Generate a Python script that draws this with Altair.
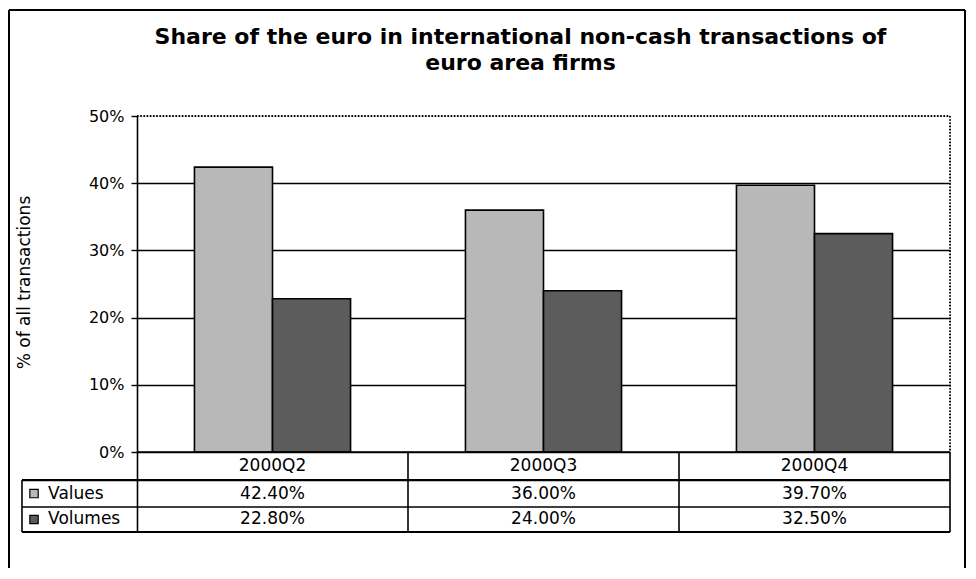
import altair as alt
import pandas as pd

# ---- data ----
quarters = ["2000Q2", "2000Q3", "2000Q4"]
series = ["Values", "Volumes"]
values = [0.424, 0.360, 0.397]
volumes = [0.228, 0.240, 0.325]
value_labels = ["42.40%", "36.00%", "39.70%"]
volume_labels = ["22.80%", "24.00%", "32.50%"]
y_ticks = [0.0, 0.1, 0.2, 0.3, 0.4, 0.5]
title_lines = ["Share of the euro in international non-cash transactions of", "euro area firms"]
y_title = "% of all transactions"
colors = ["#b8b8b8", "#5c5c5c"]

FONT = "DejaVu Sans"

# ---- tables built from the lists ----
bars_df = pd.DataFrame(
    [{"quarter": q, "series": series[0], "y": v} for q, v in zip(quarters, values)]
    + [{"quarter": q, "series": series[1], "y": v} for q, v in zip(quarters, volumes)]
)

# data-table geometry (in axis units: one column = 1, y in share units below 0)
Y_MIN = -0.119
Y_MAX = 0.5
ROW_HEADER = -0.0208
ROW_LINE1 = -0.0417
ROW_LINE2 = -0.0818
row_centres = [-0.0618, -0.1004]
LEG_LEFT = -0.4244

header_df = pd.DataFrame({"cx": [i + 0.5 for i in range(len(quarters))], "y": ROW_HEADER, "label": quarters})
cells_df = pd.DataFrame(
    [{"cx": i + 0.5, "y": row_centres[0], "label": s} for i, s in enumerate(value_labels)]
    + [{"cx": i + 0.5, "y": row_centres[1], "label": s} for i, s in enumerate(volume_labels)]
)
legend_df = pd.DataFrame({"series": series, "y": row_centres, "icon_x": [-0.380, -0.380], "text_x": [-0.328, -0.328]})

n = len(quarters)
lines = [
    {"cx": 0, "cx2": n, "y": 0.0, "y2": 0.0, "w": 1.6},
    {"cx": LEG_LEFT, "cx2": n, "y": ROW_LINE1, "y2": ROW_LINE1, "w": 2.2},
    {"cx": LEG_LEFT, "cx2": n, "y": ROW_LINE2, "y2": ROW_LINE2, "w": 1.6},
    {"cx": LEG_LEFT, "cx2": n, "y": Y_MIN, "y2": Y_MIN, "w": 1.8},
    {"cx": LEG_LEFT, "cx2": LEG_LEFT, "y": ROW_LINE1, "y2": Y_MIN, "w": 1.6},
]
for i in range(1, n + 1):
    lines.append({"cx": i, "cx2": i, "y": 0.0, "y2": Y_MIN, "w": 1.6})
lines_df = pd.DataFrame(lines)

dotted_df = pd.DataFrame([
    {"cx": 0, "cx2": n, "y": Y_MAX, "y2": Y_MAX},
    {"cx": n, "cx2": n, "y": Y_MAX, "y2": 0.0},
])

# ---- scales / axes ----
yscale = alt.Scale(domain=[Y_MIN, Y_MAX], nice=False, zero=False)
yaxis = alt.Axis(
    values=y_ticks, format=".0%", title=y_title,
    grid=True, gridColor="black", gridWidth=1.3,
    gridOpacity={"condition": {"test": "datum.value >= 0.5", "value": 0}, "value": 1},
    domainColor="black", domainWidth=1.6,
    tickColor="black", tickSize=6, tickWidth=1.4,
    labelFont=FONT, labelFontSize=16, labelColor="black", labelPadding=7,
    titleFont=FONT, titleFontSize=17, titleFontWeight="normal", titleColor="black",
    titleX=-113, titleY=166, titleAngle=270, titleAlign="center", titleBaseline="middle",
)
tx_scale = alt.Scale(domain=[0, n], nice=False, zero=False)
color_scale = alt.Scale(domain=series, range=colors)

bars = alt.Chart(bars_df).mark_bar(stroke="black", strokeWidth=1.6).encode(
    x=alt.X("quarter:N", sort=quarters, scale=alt.Scale(paddingInner=0.424, paddingOuter=0.212), axis=None),
    xOffset=alt.XOffset("series:N", sort=series, scale=alt.Scale(paddingInner=0, paddingOuter=0)),
    y=alt.Y("y:Q", scale=yscale, axis=yaxis),
    color=alt.Color("series:N", scale=color_scale, legend=None),
)

rules = alt.Chart(lines_df).mark_rule(color="black").encode(
    x=alt.X("cx:Q", scale=tx_scale, axis=None),
    x2="cx2:Q",
    y=alt.Y("y:Q", scale=yscale, axis=yaxis),
    y2="y2:Q",
    strokeWidth=alt.StrokeWidth("w:Q", scale=None),
)

dotted = alt.Chart(dotted_df).mark_rule(color="black", strokeWidth=1.8, strokeDash=[1.6, 1.6]).encode(
    x=alt.X("cx:Q", scale=tx_scale, axis=None),
    x2="cx2:Q",
    y=alt.Y("y:Q", scale=yscale, axis=yaxis),
    y2="y2:Q",
)

header = alt.Chart(header_df).mark_text(font=FONT, fontSize=17, color="black", baseline="middle").encode(
    x=alt.X("cx:Q", scale=tx_scale, axis=None),
    y=alt.Y("y:Q", scale=yscale, axis=yaxis),
    text="label:N",
)
cells = alt.Chart(cells_df).mark_text(font=FONT, fontSize=17, color="black", baseline="middle").encode(
    x=alt.X("cx:Q", scale=tx_scale, axis=None),
    y=alt.Y("y:Q", scale=yscale, axis=yaxis),
    text="label:N",
)
legend_icons = alt.Chart(legend_df).mark_square(size=70, stroke="black", strokeWidth=1.2, opacity=1).encode(
    x=alt.X("icon_x:Q", scale=tx_scale, axis=None),
    y=alt.Y("y:Q", scale=yscale, axis=yaxis),
    color=alt.Color("series:N", scale=color_scale, legend=None),
)
legend_text = alt.Chart(legend_df).mark_text(font=FONT, fontSize=17, color="black", align="left", baseline="middle").encode(
    x=alt.X("text_x:Q", scale=tx_scale, axis=None),
    y=alt.Y("y:Q", scale=yscale, axis=yaxis),
    text="series:N",
)

frame_base = alt.Chart(pd.DataFrame({"k": [0]})).mark_rule(color="black", strokeWidth=2)
frame_top = frame_base.encode(x=alt.value(-128), x2=alt.value(828), y=alt.value(-106))
frame_left = frame_base.encode(x=alt.value(-128), y=alt.value(-106), y2=alt.value(452))
frame_right = frame_base.encode(x=alt.value(828), y=alt.value(-106), y2=alt.value(452))

chart = alt.layer(
    bars, rules, dotted, header, cells, legend_icons, legend_text, frame_top, frame_left, frame_right
).resolve_scale(x="independent").properties(
    width=813,
    height=416,
    title=alt.TitleParams(
        text=title_lines, font=FONT, fontSize=22, fontWeight="bold", color="black",
        anchor="middle", frame="group", dx=-23, lineHeight=26, offset=-66,
    ),
    autosize=alt.AutoSizeParams(type="none"),
    padding={"left": 129, "top": 108, "right": 16, "bottom": 36},
).configure_view(
    stroke="transparent"
).configure(background="white")

chart.save("out.html", embed_options={"renderer": "svg", "actions": False})
